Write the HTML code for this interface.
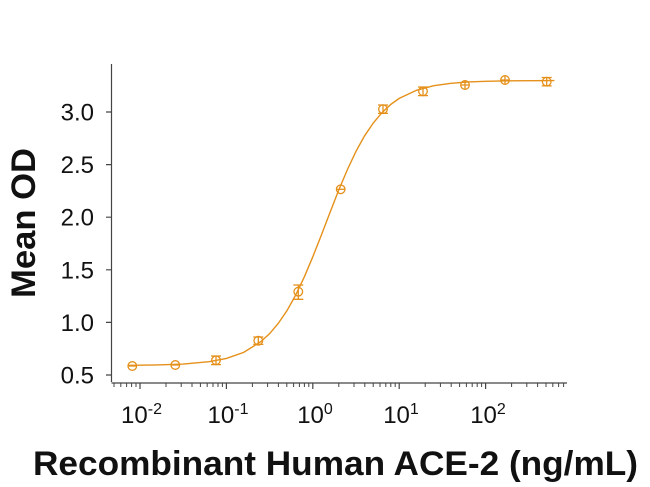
<!DOCTYPE html>
<html><head><meta charset="utf-8"><style>
html,body{margin:0;padding:0;background:#fff;}
svg{display:block;}
text{font-family:"Liberation Sans",Arial,sans-serif;fill:#111;}
</style></head><body>
<svg width="650" height="487" viewBox="0 0 650 487" xmlns="http://www.w3.org/2000/svg">
<rect width="650" height="487" fill="#fff"/>
<!-- axes -->
<g stroke="#444" stroke-width="1.2" fill="none">
<line x1="111.5" y1="64" x2="111.5" y2="382"/>
<line x1="111.5" y1="383" x2="567" y2="383"/>
<!-- y ticks -->
<path d="M106 375H111.5M106 322.4H111.5M106 269.8H111.5M106 217.2H111.5M106 164.6H111.5M106 112H111.5"/>
<!-- x major ticks -->
<path d="M140 383V389M226.4 383V389M312.8 383V389M399.2 383V389M485.6 383V389"/>
<!-- x minor ticks -->
<path stroke-width="1" d="M114 383V387M120.8 383V387M126.6 383V387M131.6 383V387M136 383V387
M166 383V387M181.2 383V387M192 383V387M200.4 383V387M207.2 383V387M213 383V387M218 383V387M222.4 383V387
M252.4 383V387M267.6 383V387M278.4 383V387M286.8 383V387M293.6 383V387M299.4 383V387M304.4 383V387M308.8 383V387
M338.8 383V387M354 383V387M364.8 383V387M373.2 383V387M380 383V387M385.8 383V387M390.8 383V387M395.2 383V387
M425.2 383V387M440.4 383V387M451.2 383V387M459.6 383V387M466.4 383V387M472.2 383V387M477.2 383V387M481.6 383V387
M511.6 383V387M526.8 383V387M537.6 383V387M546 383V387M552.8 383V387M558.6 383V387M563.6 383V387"/>
</g>
<!-- y tick labels -->
<g font-size="24" text-anchor="end">
<text x="94" y="383.5">0.5</text>
<text x="94" y="330.9">1.0</text>
<text x="94" y="278.3">1.5</text>
<text x="94" y="225.7">2.0</text>
<text x="94" y="173.1">2.5</text>
<text x="94" y="120.5">3.0</text>
</g>
<!-- x tick labels -->
<g font-size="24" text-anchor="middle">
<text x="141.5" y="423">10<tspan dy="-9" font-size="16">-2</tspan></text>
<text x="228" y="423">10<tspan dy="-9" font-size="16">-1</tspan></text>
<text x="315" y="423">10<tspan dy="-9" font-size="16">0</tspan></text>
<text x="401" y="423">10<tspan dy="-9" font-size="16">1</tspan></text>
<text x="488" y="423">10<tspan dy="-9" font-size="16">2</tspan></text>
</g>
<!-- axis titles -->
<text x="0" y="0" font-size="34" font-weight="bold" text-anchor="middle" transform="translate(35,223) rotate(-90)" textLength="150" lengthAdjust="spacingAndGlyphs">Mean OD</text>
<text x="335.5" y="475" font-size="34" font-weight="bold" text-anchor="middle" textLength="605" lengthAdjust="spacingAndGlyphs">Recombinant Human ACE-2 (ng/mL)</text>
<!-- curve -->
<g stroke="#E5901A" fill="none" stroke-width="1.4">
<polyline points="128,365.4 131.4,365.3 157.3,364.95 183.2,364.06 209.1,361.7 226.4,358.4 243.7,352.4 261,341.5 269.6,333.7 278.2,323.5 286.9,310.8 295.5,295.4 304.2,277.2 312.8,256.8 321.5,234.8 330.1,212.2 338.7,190.1 347.4,169.6 356,151.3 364.6,135.8 373.3,123 381.9,112.7 390.6,104.6 399.2,98.4 416.5,90.3 433.8,85.7 451,83.3 468.3,81.9 485.6,81.3 511.5,80.8 554.4,80.6"/>
</g>
<!-- markers -->
<g stroke="#E5901A" fill="none" stroke-width="1.3">
<circle cx="132.3" cy="366" r="4.3"/><path d="M128 366H136.6"/>
<circle cx="175.3" cy="365" r="4.3"/><path d="M171 365H179.6"/>
<circle cx="216" cy="360.3" r="4.3"/><path d="M216 356V364.6M211 356H221M211 364.6H221"/>
<circle cx="258.3" cy="340.7" r="4.3"/><path d="M258.3 337V344.4M253.3 337H263.3M253.3 344.4H263.3"/>
<circle cx="298.3" cy="291.7" r="4.3"/><path d="M298.3 285V299.3M293.3 285H303.3M293.3 299.3H303.3"/>
<circle cx="340.7" cy="189.3" r="4.3"/><path d="M336.4 189.3H345"/>
<circle cx="383" cy="109.2" r="4.3"/><path d="M383 105V113.4M378 105H388M378 113.4H388"/>
<circle cx="423" cy="91.3" r="4.3"/><path d="M423 87V95.6M418 87H428M418 95.6H428"/>
<circle cx="465" cy="85" r="4.3"/><path d="M460.7 85H469.3M465 81.5V88.5"/>
<circle cx="505" cy="80" r="4.3"/><path d="M500.7 80H509.3M505 76.5V83.5"/>
<circle cx="546.7" cy="81.7" r="4.3"/><path d="M546.7 77.5V85.9M541.7 77.5H551.7M541.7 85.9H551.7"/>
</g>
</svg>
</body></html>
